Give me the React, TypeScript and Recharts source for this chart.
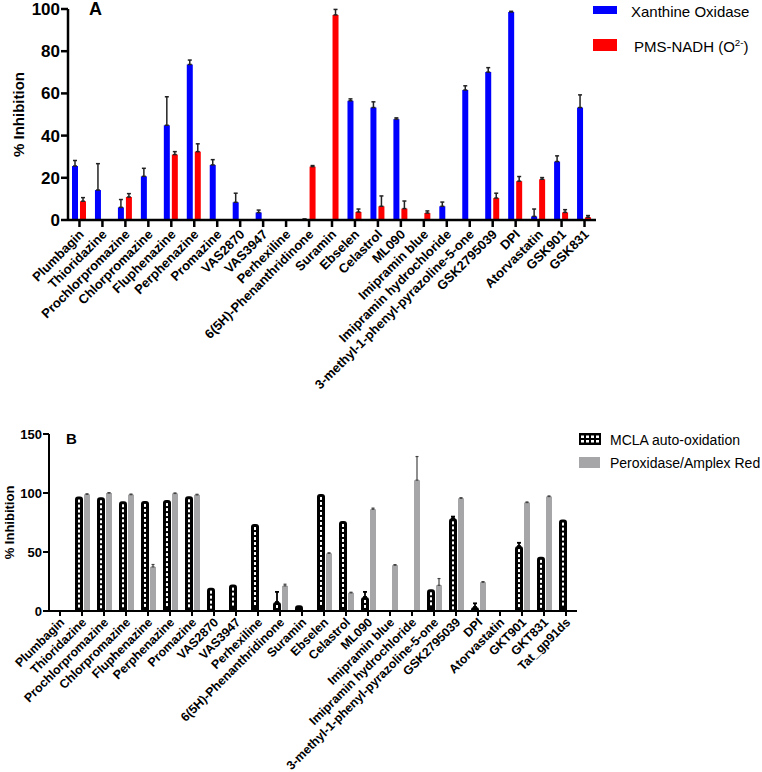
import React from 'react';
import { BarChart, Bar, XAxis, YAxis, ErrorBar, Legend } from 'recharts';

const FONT = '"Liberation Sans", Arial, Helvetica, sans-serif';

// ---------- Panel A ----------
const categoriesA = [
  'Plumbagin', 'Thioridazine', 'Prochlorpromazine', 'Chlorpromazine', 'Fluphenazine',
  'Perphenazine', 'Promazine', 'VAS2870', 'VAS3947', 'Perhexiline',
  '6(5H)-Phenanthridinone', 'Suramin', 'Ebselen', 'Celastrol', 'ML090',
  'Imipramin blue', 'Imipramin hydrochloride', '3-methyl-1-phenyl-pyrazoline-5-one',
  'GSK2795039', 'DPI', 'Atorvastatin', 'GSK901', 'GSK831',
];
const xanthineOxidase = [25.6, 14.2, 6.0, 20.7, 44.9, 73.7, 26.1, 8.4, 3.5, null, 0.3, null, 56.5, 53.3, 47.8, null, 6.5, 61.6, 70.1, 98.6, 1.7, 27.7, 53.3];
const xanthineOxidaseErr = [2.6, 12.5, 3.7, 3.8, 13.5, 2.1, 2.5, 4.3, 1.2, 0, 0.2, 0, 0.9, 2.7, 0.6, 0, 2.0, 2.0, 2.1, 0.3, 3.5, 2.7, 6.0];
const pmsNadh = [8.9, null, 10.9, null, 31.0, 32.4, null, null, null, null, 25.3, 97.2, 3.8, 6.5, 5.4, 3.3, null, null, 10.4, 18.4, 19.3, 3.6, 1.3];
const pmsNadhErr = [1.7, 0, 1.6, 0, 1.4, 3.7, 0, 0, 0, 0, 0.5, 2.6, 1.4, 4.9, 3.6, 1.0, 0, 0, 2.3, 2.2, 0.8, 1.3, 0.8];
const ticksA = [0, 20, 40, 60, 80, 100];
const seriesNamesA = ['Xanthine Oxidase', 'PMS-NADH (O2-)'];

// ---------- Panel B ----------
const categoriesB = [
  'Plumbagin', 'Thioridazine', 'Prochlorpromazine', 'Chlorpromazine', 'Fluphenazine',
  'Perphenazine', 'Promazine', 'VAS2870', 'VAS3947', 'Perhexiline',
  '6(5H)-Phenanthridinone', 'Suramin', 'Ebselen', 'Celastrol', 'ML090',
  'Imipramin blue', 'Imipramin hydrochloride', '3-methyl-1-phenyl-pyrazoline-5-one',
  'GSK2795039', 'DPI', 'Atorvastatin', 'GKT901', 'GKT831', 'Tat_gp91ds',
];
const mclaAutoOxidation = [null, 97, 96.4, 93, 93.3, 94, 97.2, 19.8, 22.4, 73.7, 7.6, 4.8, 99.2, 76.3, 11.9, null, null, 18.4, 78.5, 3.4, null, 55, 45.9, 77.5];
const mclaErr = [0, 0, 0, 0, 0, 0, 0, 0, 0, 0, 8.6, 0, 0, 0, 4.3, 0, 0, 0, 1.5, 3.1, 0, 2.8, 0, 0];
const peroxidaseAmplex = [null, 98.8, 100, 98.6, 37.4, 99.6, 98.4, null, null, null, 21.3, null, 48.8, 15.4, 86.2, 38.8, 110.9, 21.8, 95.5, 24.4, null, 91.9, 97, null];
const peroxidaseErr = [0, 0.5, 0.3, 0.5, 2, 0.4, 0.5, 0, 0, 0, 1.4, 0, 0.5, 0.5, 1, 0.5, 20, 5.7, 0.5, 0.5, 0, 0.5, 0.5, 0];
const ticksB = [0, 50, 100, 150];
const seriesNamesB = ['MCLA auto-oxidation', 'Peroxidase/Amplex Red'];

const upErr = (e: number) => (e && e > 0 ? [0, e] : null);

const dataA = categoriesA.map((name, i) => ({
  name,
  xo: xanthineOxidase[i],
  xoErr: upErr(xanthineOxidaseErr[i]),
  pms: pmsNadh[i],
  pmsErr: upErr(pmsNadhErr[i]),
}));

const dataB = categoriesB.map((name, i) => ({
  name,
  mcla: mclaAutoOxidation[i],
  mclaErr: upErr(mclaErr[i]),
  amp: peroxidaseAmplex[i],
  ampErr: upErr(peroxidaseErr[i]),
}));

const RotTick = (props: any) => {
  const { x, y, payload, size } = props;
  const ax = x + 2;
  const ay = y + 3;
  return (
    <text
      x={ax}
      y={ay}
      transform={`rotate(-45, ${ax}, ${ay})`}
      textAnchor="end"
      dy="0.35em"
      fontSize={size || 13}
      fontWeight="bold"
      fontFamily={FONT}
      fill="#000"
    >
      {payload.value}
    </text>
  );
};

const PatternBar = (props: any) => {
  const { x, y, width, height } = props;
  if (!height || height <= 0 || width == null) return null;
  const r = Math.min(3, width / 2, height);
  const d = `M${x},${y + height} L${x},${y + r} Q${x},${y} ${x + r},${y} L${x + width - r},${y} Q${x + width},${y} ${x + width},${y + r} L${x + width},${y + height} Z`;
  const squares: any[] = [];
  const cx = x + width / 2;
  for (let yy = y + 3; yy + 3 <= y + height - 1.5; yy += 5) {
    squares.push(<rect key={yy} x={cx - 1} y={yy} width={2} height={3} fill="#fff" />);
  }
  return (
    <g>
      <path d={d} fill="#000" />
      {squares}
    </g>
  );
};

const renderName = (name: string) => {
  const m = name.match(/^(.*\(O)2-(\))$/);
  if (m) {
    return (
      <span>
        {m[1]}
        <sup style={{ fontSize: '0.65em', verticalAlign: 'baseline', position: 'relative', top: '-0.55em' }}>2-</sup>
        {m[2]}
      </span>
    );
  }
  return name;
};

const orderBy = (payload: any[], names: string[]) =>
  [...payload].sort((a, b) => names.indexOf(a.value) - names.indexOf(b.value));

const LegendA = (props: any) => {
  const payload = orderBy(props.payload || [], seriesNamesA);
  const iconTop = [6, 39];
  const iconH = [8, 12];
  const textLeft = [38, 41];
  const textTop = [4.3, 38.8];
  return (
    <div style={{ position: 'relative', width: 169, height: 60, fontFamily: FONT }}>
      {payload.map((p: any, i: number) => (
        <React.Fragment key={i}>
          <div style={{ position: 'absolute', left: 0, top: iconTop[i], width: 24, height: iconH[i], background: p.color }} />
          <div style={{ position: 'absolute', left: textLeft[i], top: textTop[i], fontSize: 15, lineHeight: 1, whiteSpace: 'nowrap', color: '#000' }}>
            {renderName(p.value)}
          </div>
        </React.Fragment>
      ))}
    </div>
  );
};

const LegendB = (props: any) => {
  const payload = orderBy(props.payload || [], seriesNamesB);
  return (
    <div style={{ position: 'relative', width: 183, height: 50, fontFamily: FONT }}>
      {payload.map((p: any, i: number) => (
        <React.Fragment key={i}>
          {i === 0 ? (
            <svg style={{ position: 'absolute', left: 0, top: 3 }} width={22} height={12}>
              <rect x={0} y={0} width={22} height={12} fill="#000" />
              {[0, 1, 2, 3].map((c) => (
                <rect key={'a' + c} x={2 + c * 5} y={2.5} width={3} height={2.5} fill="#fff" />
              ))}
              {[0, 1, 2, 3].map((c) => (
                <rect key={'b' + c} x={2 + c * 5} y={7} width={3} height={2.5} fill="#fff" />
              ))}
            </svg>
          ) : (
            <div style={{ position: 'absolute', left: 0, top: 27, width: 21, height: 11, background: p.color }} />
          )}
          <div style={{ position: 'absolute', left: 31, top: i === 0 ? 3.1 : 26.1, fontSize: 14, lineHeight: 1, whiteSpace: 'nowrap', color: '#000' }}>
            {p.value}
          </div>
        </React.Fragment>
      ))}
    </div>
  );
};

export default function App() {
  return (
    <div style={{ position: 'absolute', left: 0, top: 0, width: 762, height: 772, background: '#fff', fontFamily: FONT }}>
      <div style={{ position: 'absolute', left: 0, top: 0 }}>
        <BarChart width={762} height={420} data={dataA} margin={{ top: 9, right: 166, bottom: 0, left: 0 }} barGap={2}>
          <XAxis
            dataKey="name"
            interval={0}
            height={200}
            tick={<RotTick size={13} />}
            tickSize={7}
            tickMargin={2}
            axisLine={{ stroke: '#000', strokeWidth: 2.5 }}
            tickLine={{ stroke: '#000', strokeWidth: 2.5 }}
          />
          <YAxis
            width={68}
            domain={[0, 100]}
            ticks={ticksA}
            interval={0}
            tickSize={7}
            tickMargin={1}
            axisLine={{ stroke: '#000', strokeWidth: 2.5 }}
            tickLine={{ stroke: '#000', strokeWidth: 2.5 }}
            tick={{ fontSize: 17, fontWeight: 'bold', fill: '#000', fontFamily: FONT }}
            label={{ value: '% Inhibition', angle: -90, position: 'insideLeft', offset: 19, style: { textAnchor: 'middle', fontSize: 15, fontWeight: 'bold', fill: '#000', fontFamily: FONT } }}
          />
          <Legend
            layout="vertical"
            align="center"
            verticalAlign="middle"
            wrapperStyle={{ position: 'absolute', left: 593, top: 0, width: 169, height: 60 }}
            content={<LegendA />}
          />
          <Bar dataKey="xo" name={seriesNamesA[0]} fill="#0000ff" barSize={6} isAnimationActive={false}>
            <ErrorBar dataKey="xoErr" width={2} stroke="#222" strokeWidth={1.5} direction="y" isAnimationActive={false} />
          </Bar>
          <Bar dataKey="pms" name={seriesNamesA[1]} fill="#ff0000" barSize={6} isAnimationActive={false}>
            <ErrorBar dataKey="pmsErr" width={2} stroke="#222" strokeWidth={1.5} direction="y" isAnimationActive={false} />
          </Bar>
        </BarChart>
      </div>
      <div style={{ position: 'absolute', left: 0, top: 420 }}>
        <BarChart width={762} height={352} data={dataB} margin={{ top: 14, right: 185, bottom: 0, left: 0 }} barGap={1}>
          <XAxis
            dataKey="name"
            interval={0}
            height={161}
            tick={<RotTick size={12.4} />}
            tickSize={5}
            tickMargin={1}
            axisLine={{ stroke: '#000', strokeWidth: 2 }}
            tickLine={{ stroke: '#000', strokeWidth: 2 }}
          />
          <YAxis
            width={49}
            domain={[0, 150]}
            ticks={ticksB}
            interval={0}
            tickSize={6}
            tickMargin={1}
            axisLine={{ stroke: '#000', strokeWidth: 2 }}
            tickLine={{ stroke: '#000', strokeWidth: 2 }}
            tick={{ fontSize: 13, fontWeight: 'bold', fill: '#000', fontFamily: FONT }}
            label={{ value: '% Inhibition', angle: -90, position: 'insideLeft', offset: 9, style: { textAnchor: 'middle', fontSize: 13, fontWeight: 'bold', fill: '#000', fontFamily: FONT } }}
          />
          <Legend
            layout="vertical"
            align="center"
            verticalAlign="middle"
            wrapperStyle={{ position: 'absolute', left: 579, top: 10, width: 183, height: 50 }}
            content={<LegendB />}
          />
          <Bar dataKey="mcla" name={seriesNamesB[0]} fill="#000" barSize={8} shape={<PatternBar />} isAnimationActive={false}>
            <ErrorBar dataKey="mclaErr" width={2} stroke="#000" strokeWidth={1.8} direction="y" isAnimationActive={false} />
          </Bar>
          <Bar dataKey="amp" name={seriesNamesB[1]} fill="#a6a6a8" barSize={6} isAnimationActive={false}>
            <ErrorBar dataKey="ampErr" width={1.5} stroke="#444" strokeWidth={1.2} direction="y" isAnimationActive={false} />
          </Bar>
        </BarChart>
      </div>
      <div style={{ position: 'absolute', left: 89, top: 0, fontSize: 18, fontWeight: 'bold', lineHeight: 1 }}>A</div>
      <div style={{ position: 'absolute', left: 66, top: 431, fontSize: 15, fontWeight: 'bold', lineHeight: 1 }}>B</div>
    </div>
  );
}
